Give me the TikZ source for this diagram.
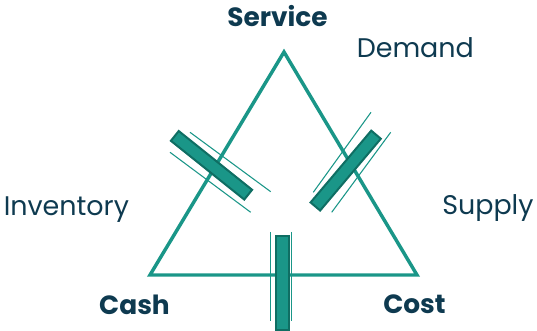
\documentclass[tikz,border=0pt]{standalone}
\usepackage{fontspec}
\setmainfont{Poppins}
\definecolor{tealline}{RGB}{26,150,136}
\definecolor{tealdark}{RGB}{15,110,99}
\definecolor{navytext}{RGB}{14,58,80}
\tikzset{
  tri/.style={draw=tealline, line width=2.6pt, line join=miter},
  clampbar/.style={draw=tealdark, fill=tealline, line width=1.5pt, inner sep=0pt,
    minimum width=70.5pt, minimum height=9.4pt},
  clampline/.style={draw=tealline, line width=0.8pt},
  label/.style={text=navytext, inner sep=0pt, font=\fontsize{20.2}{20}\selectfont},
  vlabel/.style={label, font=\fontsize{19.8}{20}\selectfont\bfseries}
}
\begin{document}
\begin{tikzpicture}[x=0.75pt,y=0.75pt,yscale=-1,xscale=1]
\path[use as bounding box] (0,0) rectangle (537,331);

%Triangle corners
\coordinate (top) at (284,52);
\coordinate (left) at (150,275);
\coordinate (right) at (417,275);
%Shape: Triangle
\draw [tri] (top) -- (left) -- (right) -- cycle ;

%Straight Lines (left clamp)
\draw [clampline] (190,132.3) -- (270.7,191.7) ;
\draw [clampline] (170,152.3) -- (250.7,212.3) ;
%Straight Lines (right clamp)
\draw [clampline] (371,112.3) -- (313.3,192.3) ;
\draw [clampline] (390.7,132.3) -- (331.7,212.3) ;
%Straight Lines (bottom clamp)
\draw [clampline] (270.7,232) -- (270.7,321) ;
\draw [clampline] (291.7,232) -- (291.7,321) ;

%Shape: Rectangles
\node [clampbar, rotate=-38.7] (barinv) at (211.5,165.3) {};
\node [clampbar, rotate=49.8] (barsup) at (345.7,170.6) {};
\node [clampbar, rotate=90, minimum height=9.75pt] (barcash) at (282.5,283) {};

% Text Node
\node [vlabel, anchor=base] (service) at (277.5,26.5) {Service};
% Text Node
\node [vlabel, anchor=base] (cash) at (134.5,315) {Cash};
% Text Node
\node [vlabel, anchor=base] (cost) at (414.5,313.3) {Cost};
% Text Node
\node [label, anchor=base west] (demand) at (356.5,58) {Demand};
% Text Node
\node [label, anchor=base west] (inventory) at (3.5,216) {Inventory};
% Text Node
\node [label, anchor=base west] (supply) at (442,215) {Supply};

\end{tikzpicture}
\end{document}
